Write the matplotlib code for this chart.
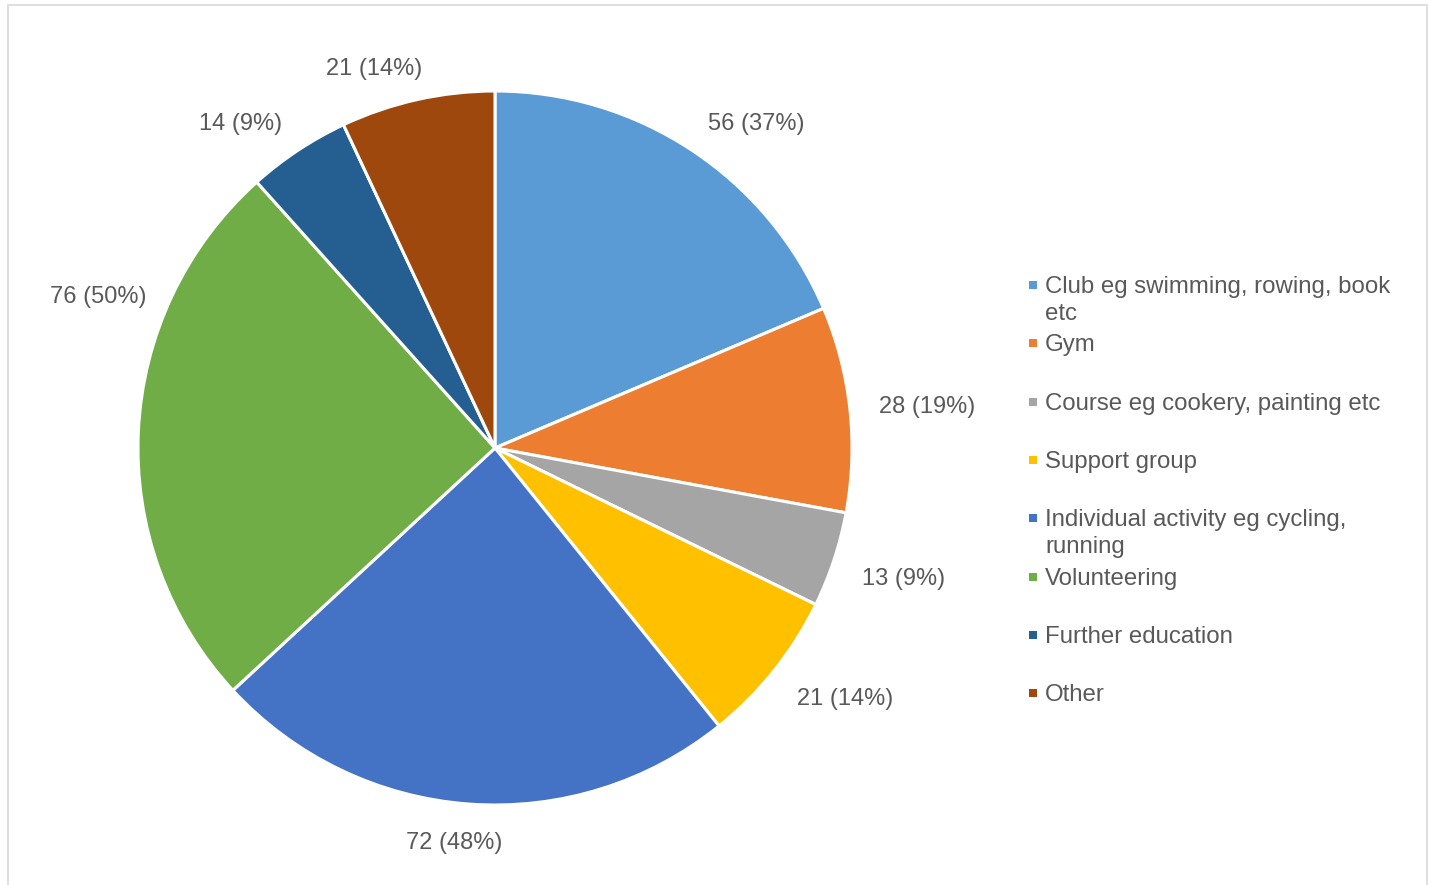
import numpy as np
import matplotlib.pyplot as plt
from matplotlib.patches import Rectangle

plt.rcParams['font.family'] = ['Liberation Sans', 'DejaVu Sans']

categories = ['Club eg swimming, rowing, book\netc', 'Gym',
              'Course eg cookery, painting etc', 'Support group',
              'Individual activity eg cycling,\nrunning', 'Volunteering',
              'Further education', 'Other']
counts = [56, 28, 13, 21, 72, 76, 14, 21]
percents = [37, 19, 9, 14, 48, 50, 9, 14]
colors = ['#5B9BD5', '#ED7D31', '#A5A5A5', '#FFC000',
          '#4472C4', '#70AD47', '#255E91', '#9E480E']

W, H = 1430, 885
text_color = '#595959'

fig = plt.figure(figsize=(W / 100, H / 100), dpi=100)
renderer = fig.canvas.get_renderer()

# chart border
fig.patches.append(Rectangle((8 / W, -0.05), 1419 / W, (H - 5) / H + 0.05,
                             transform=fig.transFigure, fill=False,
                             edgecolor='#d9d9d9', linewidth=1.2))

# pie occupies a square box centred at (495, 448) px, radius 357 px
cx, cy, R = 495, 448, 357
ax = fig.add_axes([(cx - R) / W, (H - cy - R) / H, 2 * R / W, 2 * R / H])

wedges, _ = ax.pie(counts, colors=colors, startangle=90, counterclock=False,
                   radius=1.0, wedgeprops=dict(edgecolor='white', linewidth=2.2))
ax.set_xlim(-1, 1)
ax.set_ylim(-1, 1)
ax.axis('off')

# data labels outside the rim, pushed out by a gap plus part of their own size
gap, half_h = 29, 6
angle_override = {5: 157.0}
nudge = {5: (7, -2)}
for i, w in enumerate(wedges):
    theta = angle_override.get(i, (w.theta1 + w.theta2) / 2)
    t = np.deg2rad(theta)
    c, s = np.cos(t), np.sin(t)
    ann = ax.annotate(f'{counts[i]} ({percents[i]}%)', xy=(c, s), xytext=(0, 0),
                      textcoords='offset pixels', ha='center', va='center',
                      fontsize=17, color=text_color, annotation_clip=False)
    bb = ann.get_window_extent(renderer)
    dx = gap * c + bb.width / 2 * np.clip(3.5 * c, -1, 1)
    dy = gap * s + half_h * np.clip(3.5 * s, -1, 1) - 4
    ndx, ndy = nudge.get(i, (0, 0))
    ann.xyann = (dx + ndx, dy + ndy)

# legend
y0, dy = 285, 58.3
for i, (lab, col) in enumerate(zip(categories, colors)):
    y = y0 + dy * i
    fig.patches.append(Rectangle((1029 / W, (H - y - 4) / H), 8 / W, 8 / H,
                                 transform=fig.transFigure, facecolor=col,
                                 edgecolor='none'))
    fig.text(1045 / W, (H - y + 9) / H, lab, ha='left', va='top',
             fontsize=17.3, color=text_color, linespacing=1.3)

fig.savefig('out.png', dpi=100, facecolor='white')
